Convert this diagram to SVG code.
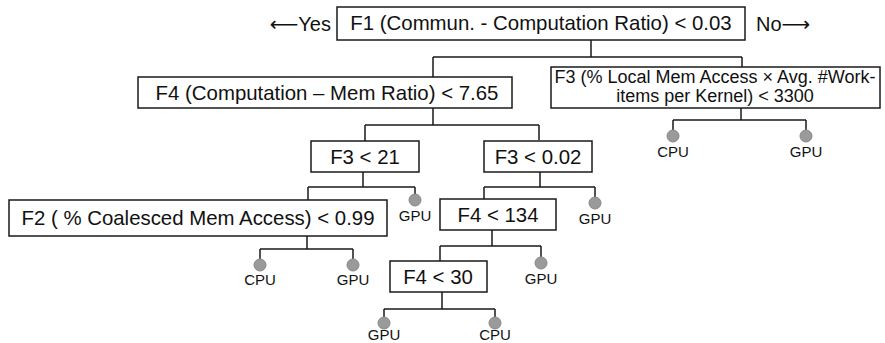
<svg xmlns="http://www.w3.org/2000/svg" width="885" height="343" viewBox="0 0 885 343">
<style>
.box{fill:#fff;stroke:#1a1a1a;stroke-width:1.5}
.t{font-family:"Liberation Sans",Arial,sans-serif;font-size:20.4px;fill:#111;text-anchor:middle}
.t2{font-family:"Liberation Sans",Arial,sans-serif;font-size:18px;fill:#111;text-anchor:middle}
.lbl{font-family:"Liberation Sans",Arial,sans-serif;font-size:15px;fill:#111;text-anchor:middle}
.leaf{fill:#9a9a9a;stroke:#888;stroke-width:1}
.c{fill:none;stroke:#1a1a1a;stroke-width:1.5}
.yn{font-family:"Liberation Sans","DejaVu Sans",sans-serif;font-size:20px;fill:#111}
</style>
<g id="connectors">
<path class="c" d="M591 40V57M433 57H742M433 57V77M742 57V67"/>
<path class="c" d="M741 108V120M673 120H806M673 120V130M806 120V130"/>
<path class="c" d="M433 108V125M365 125H539M365 125V141M539 125V140"/>
<path class="c" d="M363 172V187M308 187H415M308 187V200M415 187V194"/>
<path class="c" d="M540 172V187M484 187H595M484 187V199M595 187V197"/>
<path class="c" d="M307 236V249M260 249H353M260 249V259M353 249V259"/>
<path class="c" d="M492 230V246M440 246H541M440 246V261M541 246V257"/>
<path class="c" d="M442 292V309M384 309H495M384 309V317M495 309V317"/>
</g>
<g id="yes"><text class="yn" x="331" y="31" text-anchor="end">⟵Yes</text></g>
<g id="no"><text class="yn" x="756" y="31">No⟶</text></g>
<g id="f1"><rect class="box" x="337" y="7" width="408" height="33"/><text class="t" x="541" y="30">F1 (Commun. - Computation Ratio) &lt; 0.03</text></g>
<g id="f4a"><rect class="box" x="138" y="77" width="374" height="31"/><text class="t" x="327" y="100">F4 (Computation – Mem Ratio) &lt; 7.65</text></g>
<g id="f3a"><rect class="box" x="551" y="67" width="329" height="41"/><text class="t2" x="715" y="83">F3 (% Local Mem Access × Avg. #Work-</text><text class="t2" x="715" y="102">items per Kernel) &lt; 3300</text></g>
<g id="f3b"><rect class="box" x="311" y="141" width="108" height="31"/><text class="t" x="365" y="164">F3 &lt; 21</text></g>
<g id="f3c"><rect class="box" x="484" y="141" width="108" height="31"/><text class="t" x="538" y="164">F3 &lt; 0.02</text></g>
<g id="f2"><rect class="box" x="9" y="200" width="378" height="36"/><text class="t" x="198" y="225">F2 ( % Coalesced Mem Access) &lt; 0.99</text></g>
<g id="f4b"><rect class="box" x="440" y="199" width="116" height="31"/><text class="t" x="498" y="222">F4 &lt; 134</text></g>
<g id="f4c"><rect class="box" x="390" y="261" width="97" height="31"/><text class="t" x="438" y="284">F4 &lt; 30</text></g>
<g id="leaf1"><circle class="leaf" cx="673" cy="136" r="6"/><text class="lbl" x="673" y="157">CPU</text></g>
<g id="leaf2"><circle class="leaf" cx="806" cy="136" r="6"/><text class="lbl" x="806" y="157">GPU</text></g>
<g id="leaf3"><circle class="leaf" cx="415" cy="200" r="6"/><text class="lbl" x="415" y="221">GPU</text></g>
<g id="leaf4"><circle class="leaf" cx="595" cy="203" r="6"/><text class="lbl" x="595" y="224">GPU</text></g>
<g id="leaf5"><circle class="leaf" cx="260" cy="265" r="6"/><text class="lbl" x="260" y="285">CPU</text></g>
<g id="leaf6"><circle class="leaf" cx="353" cy="265" r="6"/><text class="lbl" x="353" y="285">GPU</text></g>
<g id="leaf7"><circle class="leaf" cx="541" cy="263" r="6"/><text class="lbl" x="541" y="284">GPU</text></g>
<g id="leaf8"><circle class="leaf" cx="384" cy="323" r="6"/><text class="lbl" x="384" y="340">GPU</text></g>
<g id="leaf9"><circle class="leaf" cx="495" cy="323" r="6"/><text class="lbl" x="495" y="340">CPU</text></g>
</svg>
